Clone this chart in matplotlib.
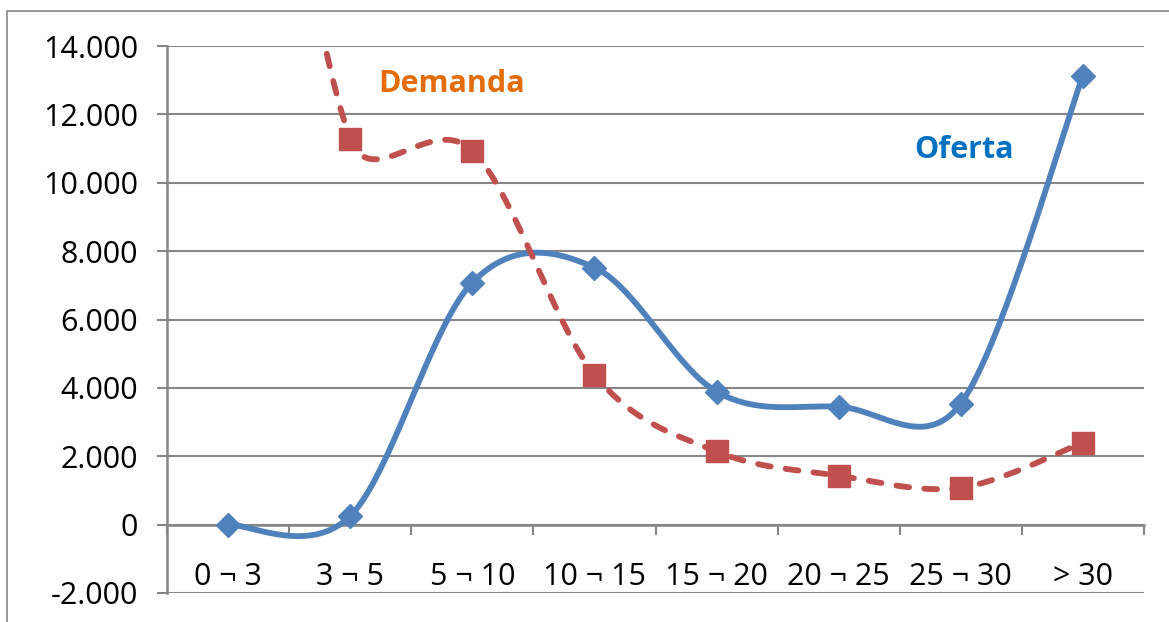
import numpy as np
import matplotlib
matplotlib.use("Agg")
import matplotlib.pyplot as plt
from matplotlib.patches import Rectangle

# ------------------------------- DATA ---------------------------------------
categories = ["0 ¬ 3", "3 ¬ 5", "5 ¬ 10", "10 ¬ 15", "15 ¬ 20", "20 ¬ 25", "25 ¬ 30", "> 30"]
oferta = [0, 250, 7080, 7520, 3890, 3450, 3540, 13130]
demanda = [30000, 11290, 10940, 4390, 2140, 1430, 1080, 2400]
y_ticks = [-2000, 0, 2000, 4000, 6000, 8000, 10000, 12000, 14000]

BLUE = "#4F81BD"
RED = "#C0504D"
GRID = "#868686"

plt.rcParams['font.family'] = ['Open Sans', 'DejaVu Sans']


def excel_smooth(ax, y, n=40):
    """Bezier smoothing done in screen space, roughly like Excel's smoothed line
    (Catmull-Rom tangents /6, clamped to half the segment length)."""
    data = np.column_stack([np.arange(len(y)), np.asarray(y, dtype=float)])
    pts = ax.transData.transform(data)
    padded = np.vstack([pts[0], pts, pts[-1]])
    t = np.linspace(0, 1, n)[:, None]
    out = []
    for i in range(len(pts) - 1):
        p0, p1, p2, p3 = padded[i:i + 4]
        half = np.linalg.norm(p2 - p1) / 2
        v1 = (p2 - p0) / 6
        v2 = (p3 - p1) / 6
        if np.linalg.norm(v1) > half:
            v1 *= half / np.linalg.norm(v1)
        if np.linalg.norm(v2) > half:
            v2 *= half / np.linalg.norm(v2)
        c1, c2 = p1 + v1, p2 - v2
        seg = ((1 - t) ** 3) * p1 + 3 * ((1 - t) ** 2) * t * c1 \
            + 3 * (1 - t) * t ** 2 * c2 + t ** 3 * p2
        out.append(seg if i == 0 else seg[1:])
    out = ax.transData.inverted().transform(np.vstack(out))
    return out[:, 0], out[:, 1]


def fmt(v):
    return f"{int(v):,}".replace(",", ".")


fig = plt.figure(figsize=(11.69, 6.22), dpi=100)
ax = fig.add_axes([167 / 1169, 29 / 622, 977 / 1169, 547 / 622])

# outer chart border (only left/top visible in the crop)
fig.patches.append(Rectangle((7 / 1169, -0.5), 2, 1.5 - 11 / 622,
                             transform=fig.transFigure, fill=False,
                             edgecolor=GRID, linewidth=1.2))

x = np.arange(len(categories))
ax.set_xlim(-0.5, len(categories) - 0.5)
ax.set_ylim(-2000, 14000)

xs, ys = excel_smooth(ax, oferta)
ax.plot(xs, ys, color=BLUE, lw=4.2, solid_capstyle='round', zorder=3)
ax.plot(x, oferta, 'D', color=BLUE, ms=12.5, zorder=4)

xs, ys = excel_smooth(ax, demanda)
ax.plot(xs, ys, color=RED, lw=4.2, dashes=(2.2, 2.6), dash_capstyle='round', zorder=3)
ax.plot(x, demanda, 's', color=RED, ms=16.5, zorder=4)

ax.set_xlim(-0.5, len(categories) - 0.5)
ax.set_ylim(-2000, 14000)

ax.set_yticks(y_ticks)
ax.set_yticklabels([fmt(v) for v in y_ticks])
ax.yaxis.grid(True, color=GRID, lw=1.5)
ax.set_axisbelow(True)

# category axis crosses at 0, ticks between categories
ax.spines['bottom'].set_position(('data', 0))
ax.set_xticks(np.arange(len(categories) + 1) - 0.5)
ax.set_xticklabels([])
ax.set_xticks(x, minor=True)
ax.set_xticklabels(categories, minor=True)
ax.tick_params(axis='x', which='major', direction='out', length=7, width=1.5, color=GRID)
ax.tick_params(axis='x', which='minor', length=0, pad=27, labelsize=22)
ax.tick_params(axis='y', direction='out', length=7, width=1.5, color=GRID, pad=14, labelsize=22)

for side in ['top', 'right']:
    ax.spines[side].set_visible(False)
for side in ['left', 'bottom']:
    ax.spines[side].set_color(GRID)
    ax.spines[side].set_linewidth(1.8)

ax.text(1.83, 12900, "Demanda", color="#E46C0A", fontsize=22, fontweight='bold',
        ha='center', va='center')
ax.text(6.03, 10970, "Oferta", color="#0070C0", fontsize=22, fontweight='bold',
        ha='center', va='center')

fig.savefig("out.png", dpi=100)
